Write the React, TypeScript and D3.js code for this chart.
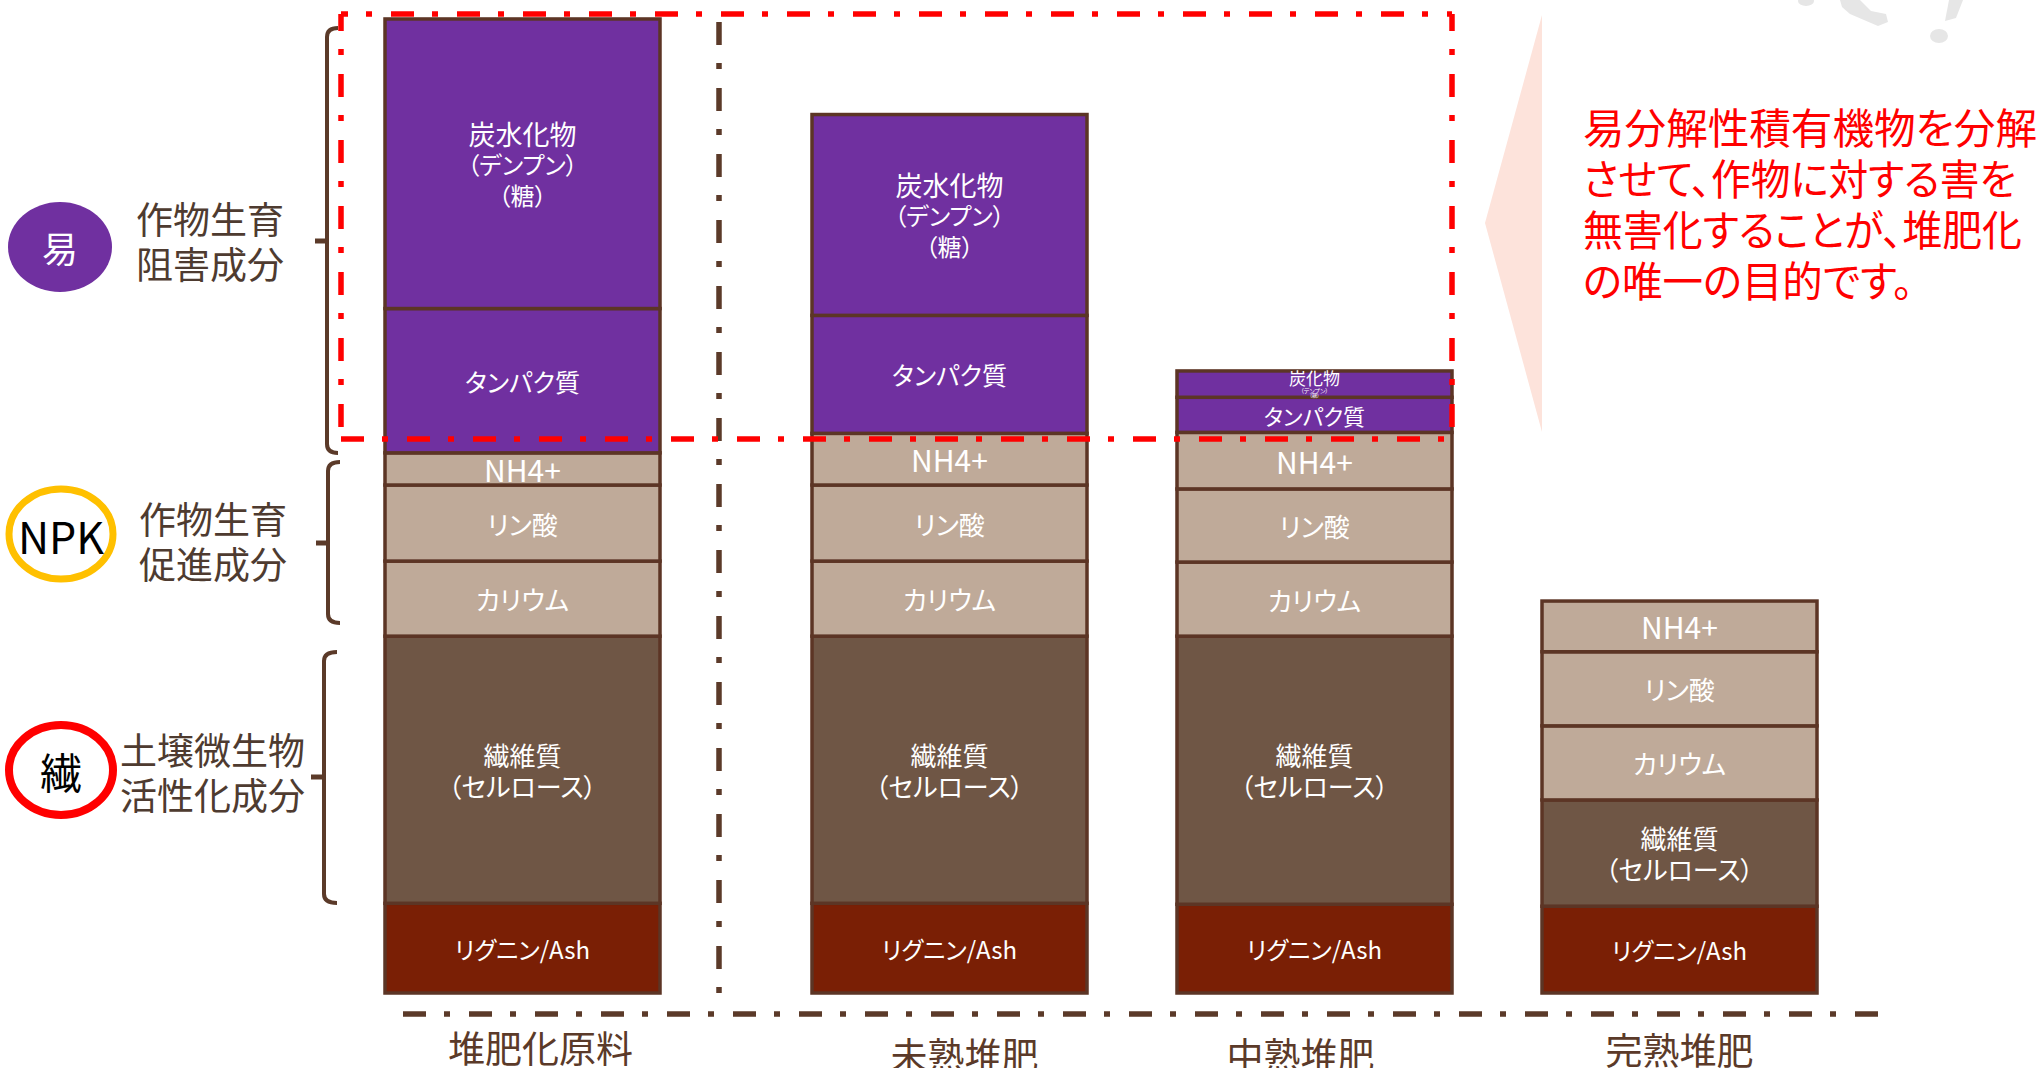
import React from "react";
import * as d3 from "d3";

// ---------- data ----------
const categories = ["堆肥化原料", "未熟堆肥", "中熟堆肥", "完熟堆肥"];
const seriesKeys = ["lignin", "fiber", "potassium", "phosphate", "ammonium", "protein", "carbohydrate"];
const ligninValues = [9.2, 9.2, 9.1, 8.9];
const fiberValues = [27.4, 27.4, 27.5, 10.9];
const potassiumValues = [7.7, 7.7, 7.6, 7.6];
const phosphateValues = [7.8, 7.8, 7.5, 7.6];
const ammoniumValues = [3.3, 5.3, 5.8, 5.2];
const proteinValues = [14.8, 12.1, 3.6, 0];
const carbohydrateValues = [29.7, 20.6, 2.7, 0];

const seriesLabels: Record<string, string[]> = {
  lignin: ["リグニン/Ash"],
  fiber: ["繊維質", "（セルロース）"],
  potassium: ["カリウム"],
  phosphate: ["リン酸"],
  ammonium: ["NH4+"],
  protein: ["タンパク質"],
  carbohydrate: ["炭水化物", "（デンプン）", "（糖）"],
};
const compactCarbLabel = ["炭化物", "（デンプン）", "（糖）"];
const groupTitles = [
  ["作物生育", "阻害成分"],
  ["作物生育", "促進成分"],
  ["土壌微生物", "活性化成分"],
];
const badgeTexts = ["易", "NPK", "繊"];
const noteLines = [
  "易分解性積有機物を分解",
  "させて、作物に対する害を",
  "無害化することが、堆肥化",
  "の唯一の目的です。",
];

// ---------- styles / layout ----------
const W = 2044;
const H = 1068;
const FONT = "'Noto Sans CJK JP', 'Noto Sans', sans-serif";
const PURPLE = "#7030A0";
const TAN = "#BFAA99";
const FIBER = "#6F5645";
const LIGNIN = "#7A1F05";
const BORDER = "#5C3525";
const BROWN = "#5B3A29";
const fills: Record<string, string> = {
  lignin: LIGNIN,
  fiber: FIBER,
  potassium: TAN,
  phosphate: TAN,
  ammonium: TAN,
  protein: PURPLE,
  carbohydrate: PURPLE,
};
const labelFont: Record<string, number[]> = {
  lignin: [24],
  fiber: [26, 26],
  potassium: [26],
  phosphate: [26],
  ammonium: [30],
  protein: [25],
  carbohydrate: [27, 24, 24],
};
const lineGap: Record<string, number> = { fiber: 31, carbohydrate: 30.5 };
const dividerGap = 62;
const categoryLabelShift = [18, 15, -14, 0];
const categoryLabelDy = [0, 7, 7, 2];
const noteLineWidths = [454, 433, 439, 330];
const DASH = "23 18 6 19";

const table = categories.map((c, i) => ({
  category: c,
  lignin: ligninValues[i],
  fiber: fiberValues[i],
  potassium: potassiumValues[i],
  phosphate: phosphateValues[i],
  ammonium: ammoniumValues[i],
  protein: proteinValues[i],
  carbohydrate: carbohydrateValues[i],
}));

const band = d3
  .scaleBand<string>()
  .domain(categories)
  .range([385, 385 + 4 * 365 - 90])
  .paddingInner(90 / 365)
  .paddingOuter(0);
const xPos = (c: string) => (band(c) as number) + (categories.indexOf(c) > 0 ? dividerGap : 0);
const y = d3.scaleLinear().domain([0, 100]).range([993, 18]);

const stacked = d3.stack<any>().keys(seriesKeys)(table);

function Brace({ xv, yt, yb, ym, xe, xt }: any) {
  const d = `M${xe},${yt} Q${xv},${yt} ${xv},${yt + 9} V${yb - 9} Q${xv},${yb} ${xe},${yb}`;
  return (
    <g fill="none" stroke={BROWN} strokeWidth={4}>
      <path d={d} />
      <path d={`M${xv},${ym} H${xt}`} strokeWidth={5} />
    </g>
  );
}

export default function App() {
  const bw = band.bandwidth();
  const rects: any[] = [];
  const labels: any[] = [];
  stacked.forEach((layer) => {
    const key = layer.key;
    layer.forEach((d, i) => {
      const c = categories[i];
      const top = y(d[1]);
      const bottom = y(d[0]);
      const h = bottom - top;
      if (h <= 0.5) return;
      const x0 = xPos(c);
      rects.push(
        <rect
          key={`r-${key}-${i}`}
          x={x0}
          y={top}
          width={bw}
          height={h}
          fill={fills[key]}
          stroke={BORDER}
          strokeWidth={3.5}
        />
      );
      const cx = x0 + bw / 2;
      if (key === "carbohydrate" && h < 40) {
        const sizes = [17, 6, 5];
        const offs = [7, 20, 24];
        compactCarbLabel.forEach((t, k) =>
          labels.push(
            <text key={`t-${key}-${i}-${k}`} x={cx} y={top + offs[k]} fontSize={sizes[k]} fill="#fff"
              textAnchor="middle" dominantBaseline="central">{t}</text>
          )
        );
        return;
      }
      const lines = seriesLabels[key];
      let sizes = labelFont[key];
      if (key === "protein" && h < 60) sizes = [22];
      const gap = lineGap[key] || 0;
      const mid = (top + bottom) / 2;
      lines.forEach((t, k) => {
        const ly = mid + (k - (lines.length - 1) / 2) * gap;
        labels.push(
          <text key={`t-${key}-${i}-${k}`} x={cx} y={ly} fontSize={sizes[k]} fill="#fff"
            textAnchor="middle" dominantBaseline="central">{t}</text>
        );
      });
    });
  });

  const bar1Right = xPos(categories[0]) + bw;
  const dividerX = bar1Right + 59;
  const redRight = xPos(categories[2]) + bw;

  const badges = [
    { cx: 60, cy: 247 },
    { cx: 61, cy: 534 },
    { cx: 61, cy: 770 },
  ];
  const titlePos = [
    { x: 136, y: 218 },
    { x: 139, y: 518 },
    { x: 120, y: 749 },
  ];

  return (
    <svg
      width={W}
      height={H}
      viewBox={`0 0 ${W} ${H}`}
      style={{ position: "absolute", left: 0, top: 0, display: "block", background: "#fff", fontFamily: FONT, fontFeatureSettings: '"palt" 1' }}
    >
      <rect x={0} y={0} width={W} height={H} fill="#fff" />
      {/* watermark fragment */}
      <g fill="#E6E6E6">
        <ellipse cx={1806} cy={1} rx={8} ry={5} />
        <path d="M1840,0 L1860,0 L1871,11 L1886,14 L1888,22 L1878,26 L1864,20 L1850,14 L1842,7 Z" />
        <path d="M1949,0 L1963,0 L1956,18 L1945,21 Z" />
        <ellipse cx={1939} cy={36} rx={9} ry={7} />
      </g>
      {/* pink arrow */}
      <polygon points="1542,15 1485,223 1542,432" fill="#FDE3DB" />

      {/* bars */}
      <g>{rects}</g>
      <g style={{ fontFamily: FONT }}>{labels}</g>

      {/* brown divider & baseline */}
      <line x1={dividerX} x2={dividerX} y1={22} y2={995} stroke={BROWN} strokeWidth={5.5} strokeDasharray={DASH} />
      <line x1={403} x2={1880} y1={1014} y2={1014} stroke={BROWN} strokeWidth={5.5} strokeDasharray={DASH} />

      {/* red dash-dot box */}
      <g stroke="#FF0000" strokeWidth={5.5} strokeDasharray={DASH}>
        <line x1={341} x2={redRight} y1={14} y2={14} strokeDashoffset={16} />
        <line x1={341} x2={redRight} y1={439} y2={439} />
        <line x1={341} x2={341} y1={14} y2={439} strokeDashoffset={6} />
        <line x1={redRight} x2={redRight} y1={14} y2={439} strokeDashoffset={6} />
      </g>

      {/* braces */}
      <Brace xv={327} yt={28} yb={453} ym={241} xe={338} xt={315} />
      <Brace xv={328} yt={462} yb={623} ym={543} xe={340} xt={316} />
      <Brace xv={324} yt={652} yb={903} ym={777} xe={337} xt={311} />

      {/* badges */}
      <ellipse cx={badges[0].cx} cy={badges[0].cy} rx={52} ry={45} fill={PURPLE} />
      <text x={badges[0].cx} y={badges[0].cy} fontSize={36} fill="#fff" textAnchor="middle" dominantBaseline="central">{badgeTexts[0]}</text>
      <ellipse cx={badges[1].cx} cy={badges[1].cy} rx={52} ry={45} fill="#fff" stroke="#FFC000" strokeWidth={7} />
      <text x={badges[1].cx} y={badges[1].cy + 1} fontSize={43} fill="#000" textAnchor="middle" dominantBaseline="central">{badgeTexts[1]}</text>
      <ellipse cx={badges[2].cx} cy={badges[2].cy} rx={52} ry={45} fill="#fff" stroke="#FF0000" strokeWidth={8} />
      <text x={badges[2].cx} y={badges[2].cy} fontSize={42} fill="#000" textAnchor="middle" dominantBaseline="central">{badgeTexts[2]}</text>

      {/* group titles */}
      {groupTitles.map((lines, g) =>
        lines.map((t, k) => (
          <text key={`g-${g}-${k}`} x={titlePos[g].x} y={titlePos[g].y + k * 44.5} fontSize={37} fill="#4E3B30" dominantBaseline="central">{t}</text>
        ))
      )}

      {/* category labels */}
      {categories.map((c, i) => (
        <text key={`c-${i}`} x={xPos(c) + bw / 2 + categoryLabelShift[i]} y={1047 + categoryLabelDy[i]} fontSize={37} fill={BROWN} textAnchor="middle" dominantBaseline="central">{c}</text>
      ))}

      {/* note */}
      {noteLines.map((t, k) => (
        <text key={`n-${k}`} x={1583} y={126 + k * 51} fontSize={41.5} fill="#FF0000" dominantBaseline="central"
          textLength={noteLineWidths[k]} lengthAdjust="spacingAndGlyphs">{t}</text>
      ))}
    </svg>
  );
}
